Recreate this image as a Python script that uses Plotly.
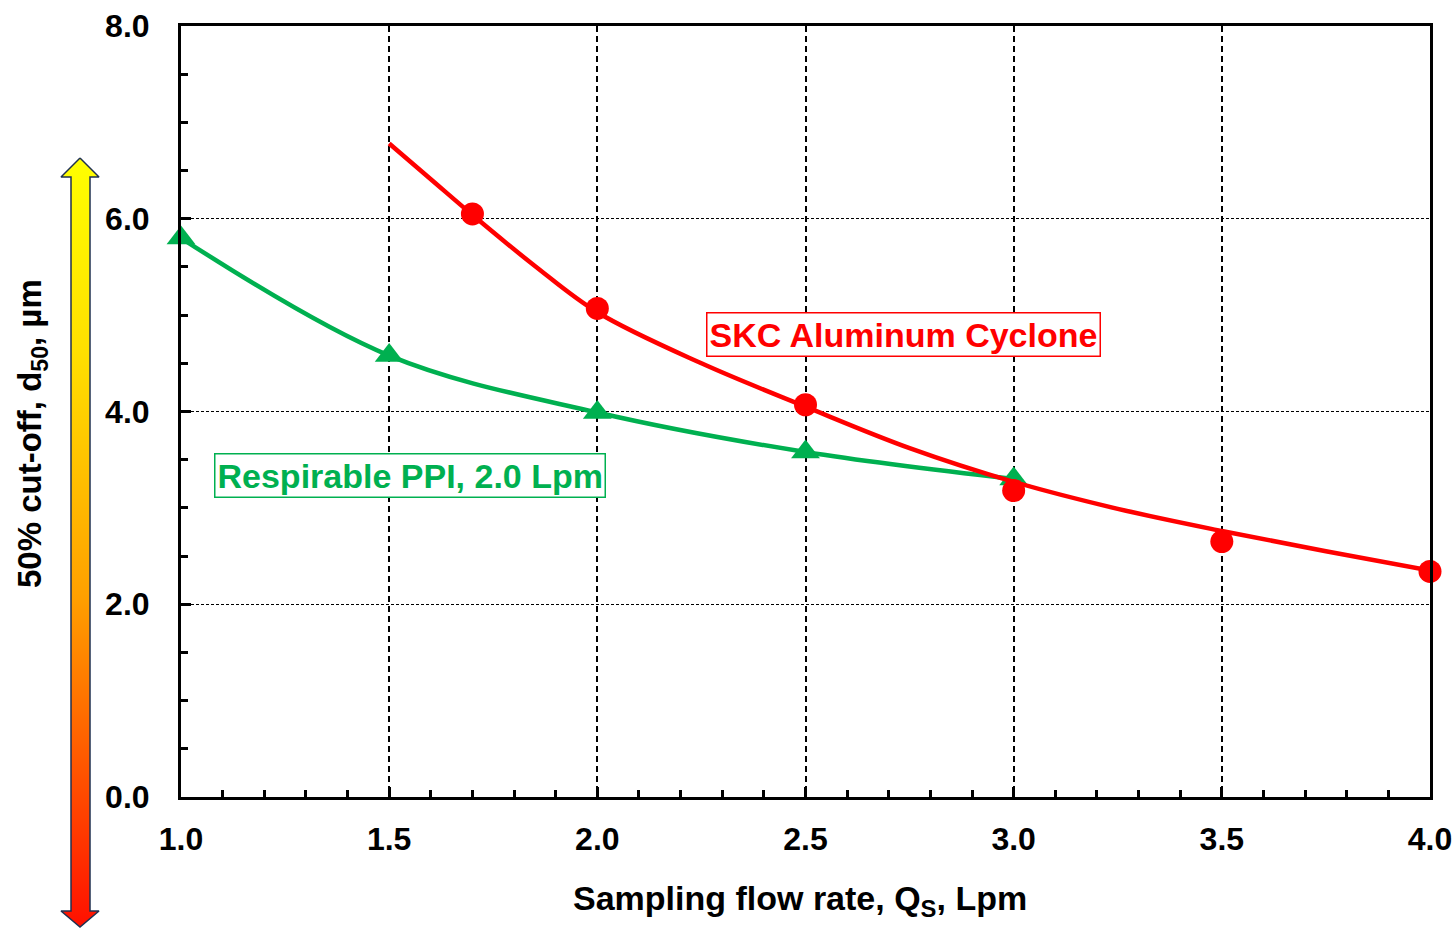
import plotly.graph_objects as go

# ---- data ----
skc_q = [1.7, 2.0, 2.5, 3.0, 3.5, 4.0]
skc_d50 = [6.05, 5.07, 4.07, 3.18, 2.65, 2.34]

skc_fit_q = [1.5, 1.6, 1.7, 1.85, 2.0, 2.25, 2.5, 2.75, 3.0, 3.25, 3.5, 3.75, 4.0]
skc_fit_d50 = [6.78, 6.41, 6.04, 5.51, 5.03, 4.50, 4.05, 3.62, 3.27, 2.99, 2.76, 2.55, 2.35]

ppi_q = [1.0, 1.5, 2.0, 2.5, 3.0]
ppi_d50 = [5.80, 4.58, 3.99, 3.58, 3.30]

x_ticks = [1.0, 1.5, 2.0, 2.5, 3.0, 3.5, 4.0]
x_ticklabels = ["1.0", "1.5", "2.0", "2.5", "3.0", "3.5", "4.0"]
y_ticks = [0, 2, 4, 6, 8]
y_ticklabels = ["0.0", "2.0", "4.0", "6.0", "8.0"]

W, H = 1456, 928
FONT = "Liberation Sans, Arial, sans-serif"
RED = "#FF0000"
GREEN = "#00B050"

# plot-area placement in pixels
PL, PR, PT, PB = 181, 1430, 26, 797

# decorative arrow outline (pixel coordinates on the page)
arrow_x = [80, 99, 90, 90, 99, 80, 61, 71, 71, 61, 80]
arrow_y = [158, 177, 177, 911, 911, 927, 911, 911, 177, 177, 158]

fig = go.Figure()

# green series
fig.add_trace(go.Scatter(
    x=ppi_q, y=ppi_d50, mode="lines+markers",
    line=dict(color=GREEN, width=4.5, shape="spline", smoothing=1.0),
    marker=dict(symbol="triangle-up", size=25, color=GREEN),
    cliponaxis=False, showlegend=False))

# red fitted curve
fig.add_trace(go.Scatter(
    x=skc_fit_q, y=skc_fit_d50, mode="lines",
    line=dict(color=RED, width=4.5, shape="spline", smoothing=1.0),
    cliponaxis=False, showlegend=False))

# red data points
fig.add_trace(go.Scatter(
    x=skc_q, y=skc_d50, mode="markers",
    marker=dict(symbol="circle", size=23, color=RED),
    cliponaxis=False, showlegend=False))

# gradient arrow in an overlay pixel-space subplot
fig.add_trace(go.Scatter(
    x=arrow_x, y=arrow_y, xaxis="x2", yaxis="y2", mode="lines",
    fill="toself",
    fillgradient=dict(type="vertical",
                      colorscale=[[0, "#FF1000"], [0.43, "#FFA000"],
                                  [0.75, "#FFE000"], [1, "#FFFF00"]]),
    line=dict(color="#1F3050", width=1.5),
    hoverinfo="skip", showlegend=False))

axis_common = dict(
    showline=True, linecolor="black", linewidth=3, mirror=True,
    ticks="inside", tickcolor="black", tickwidth=3, ticklen=10,
    tickfont=dict(family=FONT, size=32, color="black", weight="bold"),
    zeroline=False, automargin=False,
)

fig.update_layout(
    width=W, height=H,
    margin=dict(l=0, r=0, t=0, b=0),
    paper_bgcolor="white", plot_bgcolor="rgba(0,0,0,0)",
    xaxis=dict(
        **axis_common,
        domain=[PL / W, PR / W],
        range=[1.0, 4.0],
        tickvals=x_ticks, ticktext=x_ticklabels,
        showgrid=True, gridcolor="black", gridwidth=1.5, griddash="6px,4px",
        minor=dict(dtick=0.1, ticks="inside", ticklen=7, tickwidth=3,
                   tickcolor="black", showgrid=False),
        ticklabelstandoff=12,
    ),
    yaxis=dict(
        **axis_common,
        domain=[1 - PB / H, 1 - PT / H],
        range=[0, 8],
        tickvals=y_ticks, ticktext=y_ticklabels,
        showgrid=True, gridcolor="black", gridwidth=1, griddash="3px,2px",
        minor=dict(dtick=0.5, ticks="inside", ticklen=7, tickwidth=3,
                   tickcolor="black", showgrid=False),
        ticklabelstandoff=22,
    ),
    xaxis2=dict(domain=[0, 1], range=[0, W], anchor="y2", visible=False,
                fixedrange=True),
    yaxis2=dict(domain=[0, 1], range=[H, 0], anchor="x2", visible=False,
                fixedrange=True),
    annotations=[
        dict(text="SKC Aluminum Cyclone", xref="paper", yref="paper",
             x=903 / W, y=1 - 334 / H, xanchor="center", yanchor="middle",
             showarrow=False,
             font=dict(family=FONT, size=34, color=RED, weight="bold"),
             bordercolor=RED, borderwidth=1.5, borderpad=2, bgcolor="white"),
        dict(text="Respirable PPI, 2.0 Lpm", xref="paper", yref="paper",
             x=410 / W, y=1 - 475 / H, xanchor="center", yanchor="middle",
             showarrow=False,
             font=dict(family=FONT, size=34, color=GREEN, weight="bold"),
             bordercolor=GREEN, borderwidth=1.5, borderpad=2, bgcolor="white"),
        dict(text="Sampling flow rate, Q<sub>S</sub>, Lpm", xref="paper", yref="paper",
             x=800 / W, y=1 - 900 / H, xanchor="center", yanchor="middle",
             showarrow=False,
             font=dict(family=FONT, size=34, color="black", weight="bold")),
        dict(text="50% cut-off, d<sub>50</sub>, µm", xref="paper", yref="paper",
             x=32 / W, y=1 - 434 / H, xanchor="center", yanchor="middle",
             textangle=-90, showarrow=False,
             font=dict(family=FONT, size=33, color="black", weight="bold")),
    ],
)

fig.write_html("out.html")
